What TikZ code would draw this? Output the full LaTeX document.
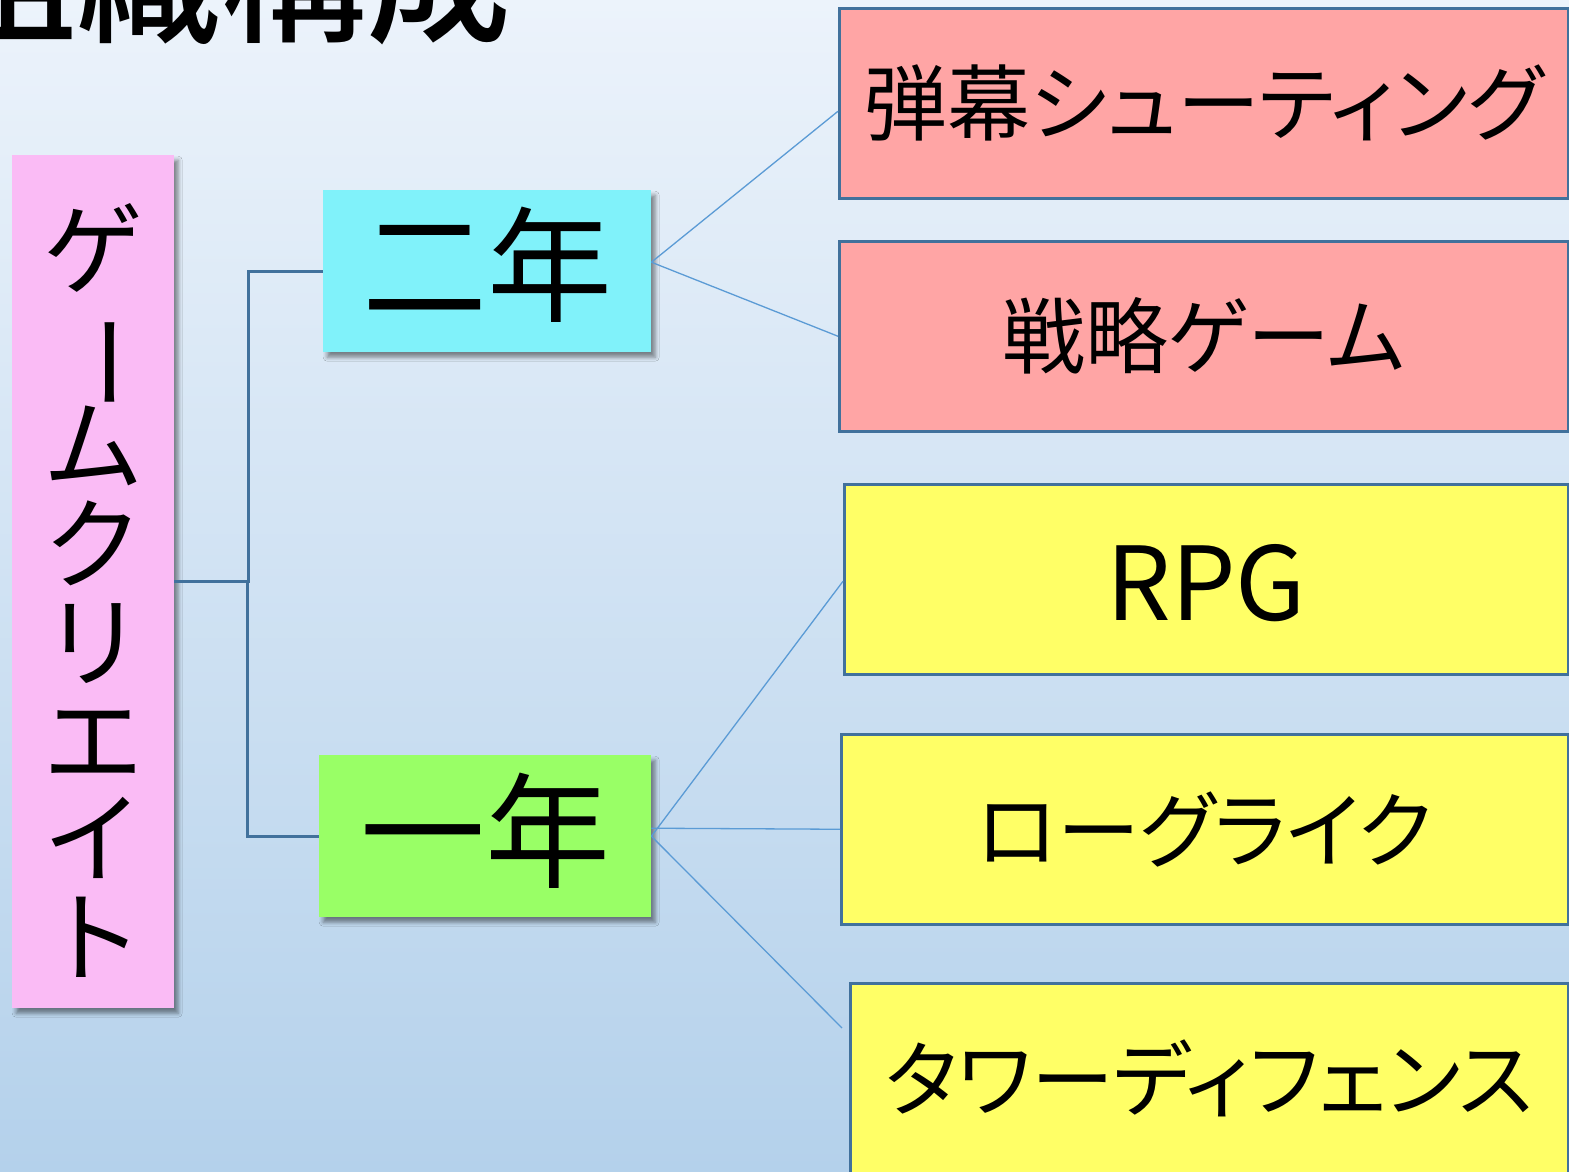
\documentclass[tikz,border=0pt]{standalone}
\usepackage{fontspec}
\usepackage{graphicx}
\setmainfont{Noto Sans CJK JP}
\newfontfamily\jp[BoldFont={Noto Sans CJK JP Medium}]{Noto Sans CJK JP}
\newfontfamily\jpp[RawFeature=+palt]{Noto Sans CJK JP}
\newcommand\tightlines{\setlength{\lineskiplimit}{-60pt}\setlength{\lineskip}{0pt}}
\newcommand\shiftup[2]{\raisebox{#1}[\height][\depth]{#2}}
\usetikzlibrary{shadows.blur}
\definecolor{bgtop}{RGB}{236,243,251}
\definecolor{bgbot}{RGB}{180,209,235}
\definecolor{pinkc}{RGB}{250,187,245}
\definecolor{cyanc}{RGB}{128,242,250}
\definecolor{greenc}{RGB}{153,255,102}
\definecolor{redc}{RGB}{255,165,165}
\definecolor{yellc}{RGB}{255,255,102}
\definecolor{bordc}{RGB}{65,113,156}
\definecolor{thinc}{RGB}{91,155,213}
\tikzset{
  softshadow/.style={blur shadow={shadow xshift=4pt, shadow yshift=-5pt, shadow blur radius=4pt, shadow opacity=45}},
  yearbox/.style={inner sep=0pt, anchor=north west, minimum height=162pt, softshadow, font=\jp\fontsize{125}{130}\selectfont},
  catbox/.style={draw=bordc, line width=2.5pt, inner sep=0pt, anchor=north west, minimum height=190pt},
  elbow/.style={draw=bordc, line width=2.6pt},
  thin/.style={draw=thinc, line width=1.3pt}
}
\begin{document}
\begin{tikzpicture}[x=1pt,y=-1pt]
\useasboundingbox (0,0) rectangle (1569,1171);
\clip (0,0) rectangle (1569,1171);
\shade[top color=bgtop, bottom color=bgbot] (0,0) rectangle (1569,1171);
% title (cut off at top)
\node[anchor=base east, inner sep=0pt, font=\jp\bfseries\fontsize{145}{150}\selectfont] (title) at (512,31) {組織構成};
% root
\node[fill=pinkc, inner sep=0pt, anchor=north west, minimum width=162pt, minimum height=853pt, softshadow,
      align=center, font=\jp\fontsize{100}{98.3}\selectfont\tightlines] (root) at (12,155)
  {\rule{0pt}{100pt}ゲ\\\rotatebox[origin=c]{-90}{ー}\\ム\\ク\\リ\\エ\\イ\\ト};
% years
\node[yearbox, fill=cyanc, minimum width=328pt] (n2) at (323,190) {\shiftup{6pt}{二年}};
\node[yearbox, fill=greenc, minimum width=332pt] (n1) at (319,755) {\shiftup{5pt}{一年}};
% categories
\node[catbox, fill=redc, minimum width=729pt, font=\jpp\fontsize{83}{90}\selectfont] (s1) at (838,7) {弾幕シューティング};
\node[catbox, fill=redc, minimum width=729pt, font=\jpp\fontsize{83}{90}\selectfont] (s2) at (838,240) {戦略ゲーム};
\node[catbox, fill=yellc, minimum width=724pt, font=\jp\fontsize{102}{110}\selectfont] (f1) at (843,483) {\shiftup{-4pt}{RPG}};
\node[catbox, fill=yellc, minimum width=727pt, font=\jpp\fontsize{83}{90}\selectfont] (f2) at (840,733) {ローグライク};
\node[catbox, fill=yellc, minimum width=718pt, font=\jpp\fontsize{83}{90}\selectfont] (f3) at (849,982) {タワーディフェンス};
% connectors
\draw[elbow] (root.east) -- ++(74,0) |- (n2.west);
\draw[elbow] (root.east) -- ++(73,0) |- (n1.west);
\coordinate (n2out) at ([yshift=9pt]n2.east);
\coordinate (n1h) at ([yshift=8pt]n1.east);
\coordinate (f3end) at (842,1028);
\draw[thin] (n2out) -- ([yshift=-8pt]s1.west);
\draw[thin] (n2out) -- (s2.west);
\draw[thin] (n1.east) -- ([yshift=-2pt]f1.west);
\draw[thin] (n1h) -- (f2.west);
\draw[thin] (n1.east) -- (f3end);
\end{tikzpicture}
\end{document}
